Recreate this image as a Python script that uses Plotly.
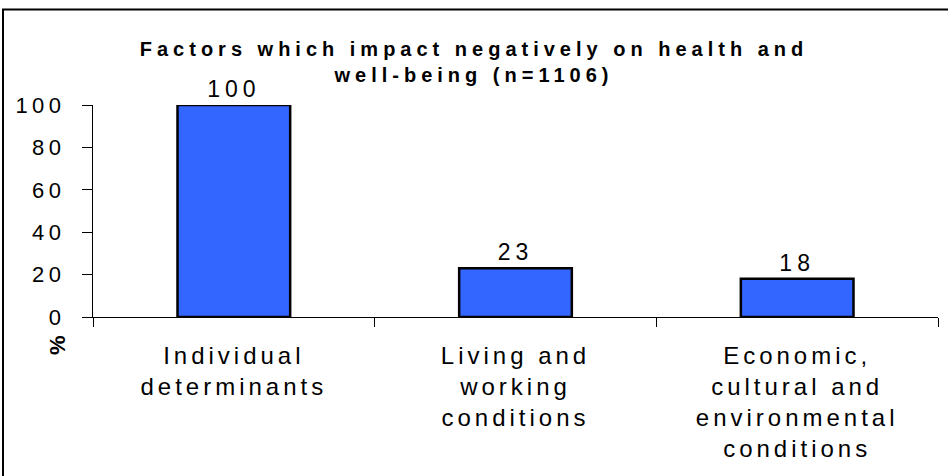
import plotly.graph_objects as go

categories = ["Individual<br>determinants", "Living and<br>working<br>conditions",
              "Economic,<br>cultural and<br>environmental<br>conditions"]
values = [100, 23, 18]
y_ticks = [0, 20, 40, 60, 80, 100]

title_text = "Factors which impact negatively on health and<br>well-being (n=1106)"

# plot area in pixels
L, R, T, B = 93, 938, 105, 317
W, H = 948, 476


def spaced(s, px):
    # wrap each line in a span so the wide letter spacing of the original shows
    return "<br>".join(f"<span style='letter-spacing:{px}px'>{p}</span>" for p in s.split("<br>"))


def px_x(x):
    return (x - L) / (R - L)


def px_y(y):
    return (B - y) / (B - T)


fig = go.Figure()
fig.add_bar(
    x=categories, y=values,
    marker=dict(color="#3366FF", line=dict(color="black", width=2.5)),
    width=0.4,
    text=[spaced(str(v), 5) for v in values],
    textposition="outside",
    textfont=dict(size=23, color="black"),
    cliponaxis=False,
)

fig.update_layout(
    width=W, height=H,
    margin=dict(l=L, r=W - R, t=T, b=H - B),
    paper_bgcolor="white", plot_bgcolor="white",
    font=dict(family="Liberation Sans, Arial", color="black"),
    showlegend=False,
    title=dict(text="<b>" + spaced(title_text, 5) + "</b>", x=0.5, xanchor="center",
               y=1 - 56 / H, yanchor="middle", font=dict(size=20)),
    xaxis=dict(
        type="category", tickmode="array", tickvals=categories,
        ticktext=[spaced(c, 4) for c in categories],
        range=[-0.5, 2.5], showline=True, linecolor="black", linewidth=1,
        ticks="outside", ticklen=9, tickcolor="black", tickson="boundaries",
        tickfont=dict(size=24), ticklabelstandoff=17, showgrid=False, zeroline=False,
    ),
    yaxis=dict(
        range=[0, 100], tickvals=y_ticks, ticktext=[spaced(str(t), 4.5) for t in y_ticks],
        showline=True, linecolor="black", linewidth=1,
        ticks="outside", ticklen=10, tickcolor="black",
        tickfont=dict(size=22), ticklabelstandoff=12, showgrid=False, zeroline=False,
    ),
)

# y-axis title sits low, under the axis
fig.add_annotation(text="<b>%</b>", textangle=-90, x=px_x(57), y=px_y(345),
                   xanchor="center", yanchor="middle",
                   xref="paper", yref="paper", showarrow=False, font=dict(size=22))

# outer frame of the chart (runs off the right and bottom edges)
fig.add_shape(type="rect", xref="paper", yref="paper",
              x0=px_x(3), x1=px_x(952), y0=px_y(482), y1=px_y(9.5),
              line=dict(color="black", width=2), layer="below")

fig.write_html("out.html", config={"displayModeBar": False},
               post_script="document.body.style.margin='0';")
